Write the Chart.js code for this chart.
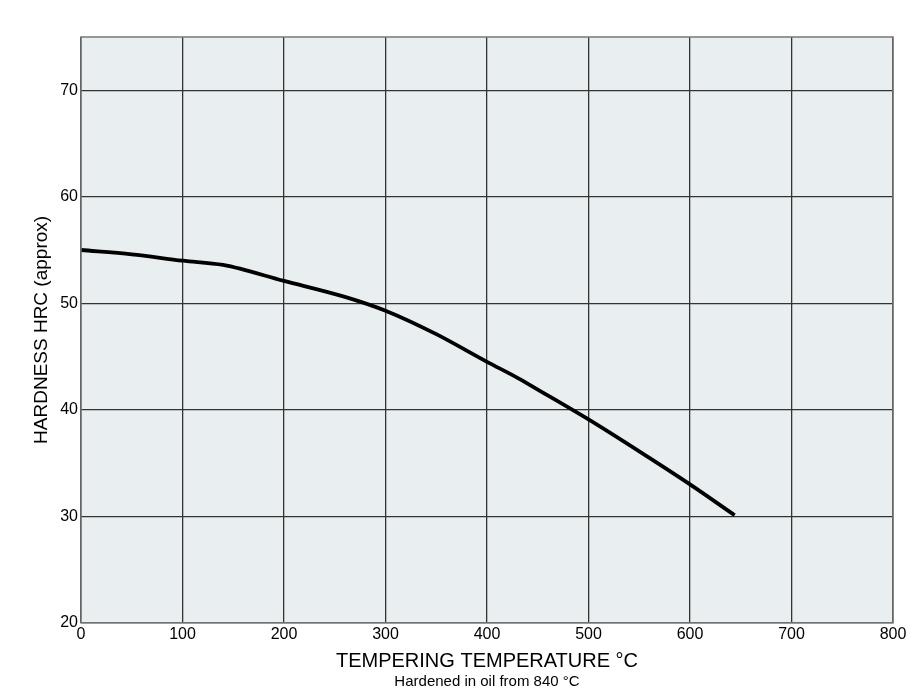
<!DOCTYPE html>
<html>
<head>
<meta charset="utf-8">
<script src="https://cdn.jsdelivr.net/npm/chart.js@4/dist/chart.umd.min.js"></script>
<style>
html,body{margin:0;padding:0;background:#fff;}
#wrap{width:918px;height:696px;}
</style>
</head>
<body>
<div id="wrap"><canvas id="c" width="918" height="696"></canvas></div>
<script>
// Data
const temperatures = [0, 50, 100, 140, 200, 260, 300, 350, 400, 430, 450, 500, 550, 600, 644];
const hardness     = [55.0, 54.6, 54.0, 53.6, 52.1, 50.6, 49.3, 47.1, 44.5, 43.0, 41.9, 39.1, 36.1, 33.0, 30.1];
const xTicks = [0, 100, 200, 300, 400, 500, 600, 700, 800];
const yTicks = [20, 30, 40, 50, 60, 70];
const xTitle = 'TEMPERING TEMPERATURE °C';
const subTitle = 'Hardened in oil from 840 °C';
const yTitle = 'HARDNESS HRC (approx)';

const points = temperatures.map((t, i) => ({x: t, y: hardness[i]}));

const bgPlugin = {
  id: 'plotBg',
  beforeDraw(chart) {
    const {ctx, chartArea: a} = chart;
    ctx.save();
    ctx.fillStyle = '#e9eff0';
    ctx.fillRect(a.left, a.top, a.right - a.left, a.bottom - a.top);
    ctx.restore();
  },
  afterDatasetsDraw(chart) {
    const {ctx, chartArea: a} = chart;
    ctx.save();
    ctx.strokeStyle = '#777';
    ctx.lineWidth = 1.5;
    ctx.strokeRect(a.left, a.top, a.right - a.left, a.bottom - a.top);
    ctx.restore();
  }
};

new Chart(document.getElementById('c'), {
  type: 'line',
  data: {
    datasets: [{
      data: points,
      borderColor: '#000',
      borderWidth: 3.8,
      pointRadius: 0,
      fill: false,
      cubicInterpolationMode: 'monotone'
    }]
  },
  options: {
    responsive: false,
    animation: false,
    devicePixelRatio: 1,
    layout: {padding: {left: 0, right: 25, top: 37, bottom: 5}},
    plugins: {
      legend: {display: false},
      tooltip: {enabled: false},
      subtitle: {
        display: true,
        text: subTitle,
        position: 'bottom',
        fullSize: false,
        color: '#000',
        font: {family: 'Liberation Sans', size: 15},
        padding: {top: 0, bottom: 0}
      }
    },
    scales: {
      x: {
        type: 'linear',
        min: 0, max: 800,
        afterBuildTicks(s) { s.ticks = xTicks.map(v => ({value: v})); },
        grid: {color: '#333', lineWidth: 1.3, drawTicks: false},
        border: {display: false},
        ticks: {color: '#000', padding: 2, font: {family: 'Liberation Sans', size: 16}},
        title: {display: true, text: xTitle, color: '#000', padding: {top: 3, bottom: 0},
                font: {family: 'Liberation Sans', size: 20}}
      },
      y: {
        min: 20, max: 75,
        afterBuildTicks(s) { s.ticks = yTicks.map(v => ({value: v})); },
        afterFit(s) { s.width = 81; },
        grid: {color: '#333', lineWidth: 1.3, drawTicks: false},
        border: {display: false},
        ticks: {color: '#000', padding: 3, font: {family: 'Liberation Sans', size: 16}},
        title: {display: true, text: yTitle, color: '#000', padding: {top: 30, bottom: 0},
                font: {family: 'Liberation Sans', size: 19}}
      }
    }
  },
  plugins: [bgPlugin]
});
</script>
</body>
</html>
